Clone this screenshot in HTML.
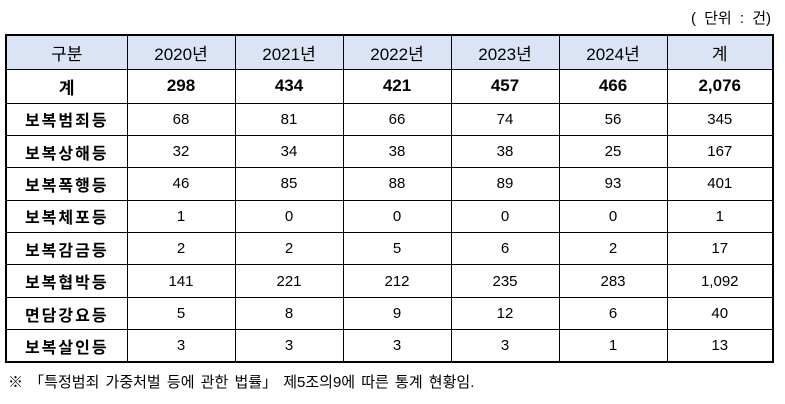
<!DOCTYPE html>
<html><head><meta charset="utf-8"><style>
body{margin:0;width:785px;height:404px;background:#fff;font-family:"Liberation Sans","Noto Sans CJK KR","NanumGothic",sans-serif;position:relative;overflow:hidden}
.unit{position:absolute;right:14px;top:7px;font-size:15px;color:#000;word-spacing:4px}
table{position:absolute;left:5px;top:34px;border-collapse:collapse;border:2px solid #000;table-layout:fixed}
td{border:1px solid #000;text-align:center;font-size:15px;padding:0;height:32.4px;color:#000;box-sizing:border-box}
tr.h td{background:#dae4f5;height:34px;font-size:17px}
tr.t td{font-weight:bold;font-size:17px;height:34px}
td.l{font-size:16px;letter-spacing:2px;font-weight:bold}
.note{position:absolute;left:8px;top:371px;font-size:15px;word-spacing:2px}
</style></head><body>
<div class="unit">( 단위 : 건)</div>
<table>
<colgroup><col style="width:121px"><col style="width:108px"><col style="width:108px"><col style="width:108px"><col style="width:108px"><col style="width:108px"><col style="width:106px"></colgroup>
<tr class="h"><td>구분</td><td>2020년</td><td>2021년</td><td>2022년</td><td>2023년</td><td>2024년</td><td>계</td></tr>
<tr class="t"><td>계</td><td>298</td><td>434</td><td>421</td><td>457</td><td>466</td><td>2,076</td></tr>
<tr><td class="l">보복범죄등</td><td>68</td><td>81</td><td>66</td><td>74</td><td>56</td><td>345</td></tr>
<tr><td class="l">보복상해등</td><td>32</td><td>34</td><td>38</td><td>38</td><td>25</td><td>167</td></tr>
<tr><td class="l">보복폭행등</td><td>46</td><td>85</td><td>88</td><td>89</td><td>93</td><td>401</td></tr>
<tr><td class="l">보복체포등</td><td>1</td><td>0</td><td>0</td><td>0</td><td>0</td><td>1</td></tr>
<tr><td class="l">보복감금등</td><td>2</td><td>2</td><td>5</td><td>6</td><td>2</td><td>17</td></tr>
<tr><td class="l">보복협박등</td><td>141</td><td>221</td><td>212</td><td>235</td><td>283</td><td>1,092</td></tr>
<tr><td class="l">면담강요등</td><td>5</td><td>8</td><td>9</td><td>12</td><td>6</td><td>40</td></tr>
<tr><td class="l">보복살인등</td><td>3</td><td>3</td><td>3</td><td>3</td><td>1</td><td>13</td></tr>
</table>
<div class="note">※ 「특정범죄 가중처벌 등에 관한 법률」 제5조의9에 따른 통계 현황임.</div>
</body></html>
